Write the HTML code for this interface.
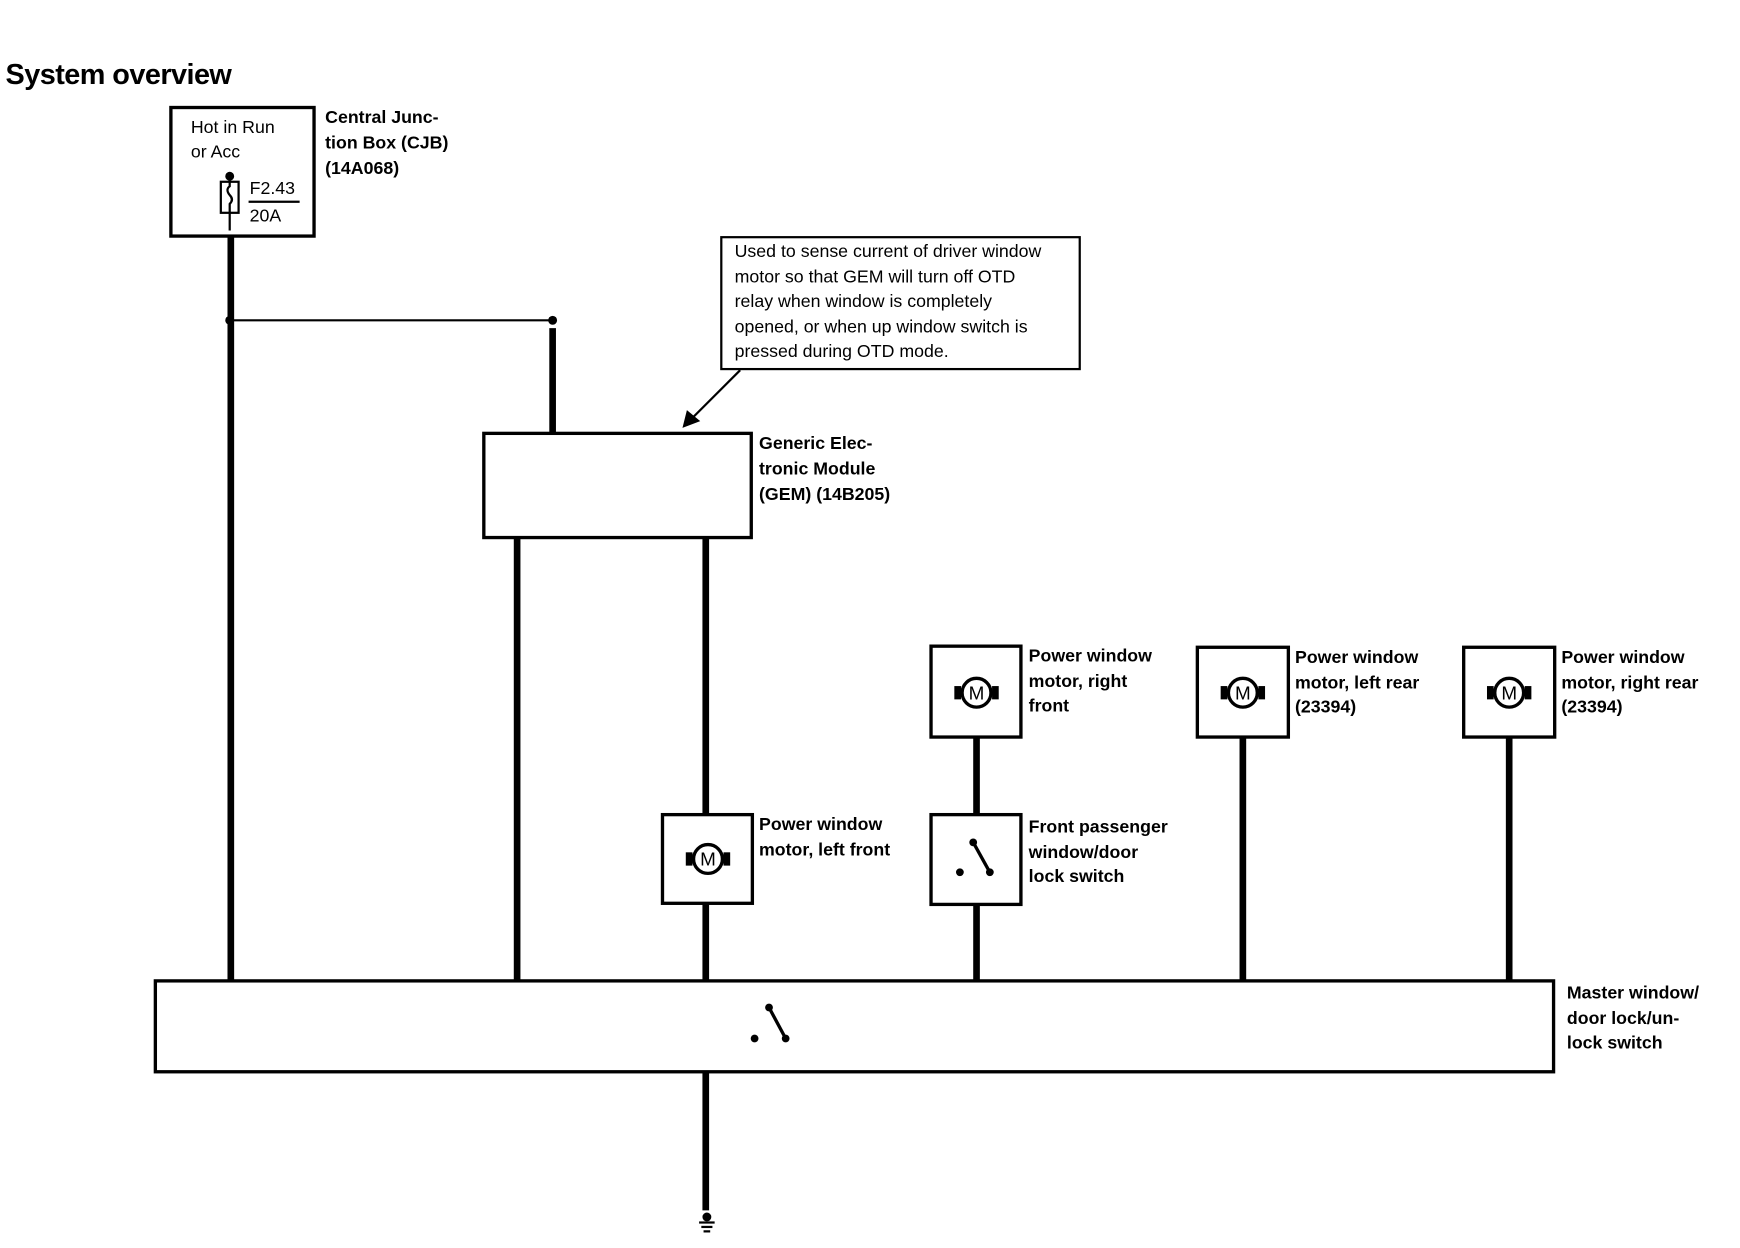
<!DOCTYPE html>
<html><head><meta charset="utf-8"><style>
html,body{margin:0;padding:0;background:#fff;}
svg{display:block;}
text{font-family:"Liberation Sans",Arial,sans-serif;fill:#000;}
.b{font-weight:bold;font-size:16px;}
.r{font-size:16px;}
</style></head><body>
<svg width="1740" height="1248" viewBox="0 0 1568 1126" preserveAspectRatio="none" xmlns="http://www.w3.org/2000/svg">
<defs>
<g id="mot">
<rect x="-20" y="-6" width="6" height="12" fill="#000"/>
<rect x="14" y="-6" width="6" height="12" fill="#000"/>
<circle cx="0" cy="0" r="13" fill="#fff" stroke="#000" stroke-width="3"/>
<text x="0" y="6" text-anchor="middle" style="font-size:17px">M</text>
</g>
</defs>
<text x="5" y="76" style="font-size:26px;font-weight:bold;letter-spacing:-0.5px">System overview</text>
<!-- CJB -->
<rect x="154" y="97" width="129" height="116" fill="none" stroke="#000" stroke-width="3"/>
<text class="r" x="172" y="120">Hot in Run</text>
<text class="r" x="172" y="142">or Acc</text>
<circle cx="207" cy="159" r="4"/>
<rect x="199" y="164" width="16" height="28" fill="none" stroke="#000" stroke-width="2"/>
<path d="M207 161 v7 q-4 3 0 8 q4 4 0 8 v24" fill="none" stroke="#000" stroke-width="2"/>
<text class="r" x="225" y="175">F2.43</text>
<line x1="224" y1="182" x2="270" y2="182" stroke="#000" stroke-width="2"/>
<text class="r" x="225" y="200">20A</text>
<text class="b" x="293" y="111">Central Junc-</text>
<text class="b" x="293" y="134">tion Box (CJB)</text>
<text class="b" x="293" y="157">(14A068)</text>
<!-- wires -->
<g stroke="#000" stroke-width="6" fill="none">
<line x1="208" y1="213" x2="208" y2="885"/>
<line x1="498" y1="296" x2="498" y2="391"/>
<line x1="466" y1="485" x2="466" y2="885"/>
<line x1="636" y1="485" x2="636" y2="735"/>
<line x1="636" y1="815" x2="636" y2="885"/>
<line x1="880" y1="665" x2="880" y2="735"/>
<line x1="880" y1="816" x2="880" y2="885"/>
<line x1="1120" y1="665" x2="1120" y2="885"/>
<line x1="1360" y1="665" x2="1360" y2="885"/>
<line x1="636" y1="967" x2="636" y2="1092"/>
</g>
<line x1="207" y1="289" x2="498" y2="289" stroke="#000" stroke-width="2"/>
<circle cx="207" cy="289" r="4"/><circle cx="498" cy="289" r="4"/>
<!-- note -->
<rect x="650" y="214" width="323" height="119" fill="#fff" stroke="#000" stroke-width="2"/>
<text class="r" x="662" y="232">Used to sense current of driver window</text>
<text class="r" x="662" y="255">motor so that GEM will turn off OTD</text>
<text class="r" x="662" y="277">relay when window is completely</text>
<text class="r" x="662" y="300">opened, or when up window switch is</text>
<text class="r" x="662" y="322">pressed during OTD mode.</text>
<line x1="667" y1="334" x2="624" y2="377" stroke="#000" stroke-width="2"/>
<polygon points="615,386 619,370 631,380" fill="#000"/>
<!-- GEM -->
<rect x="436" y="391" width="241" height="94" fill="#fff" stroke="#000" stroke-width="3"/>
<text class="b" x="684" y="405">Generic Elec-</text>
<text class="b" x="684" y="428">tronic Module</text>
<text class="b" x="684" y="451">(GEM) (14B205)</text>
<!-- LF motor -->
<rect x="597" y="735" width="81" height="80" fill="#fff" stroke="#000" stroke-width="3"/>
<use href="#mot" x="638" y="775"/>
<text class="b" x="684" y="749">Power window</text>
<text class="b" x="684" y="772">motor, left front</text>
<!-- RF -->
<rect x="839" y="583" width="81" height="82" fill="#fff" stroke="#000" stroke-width="3"/>
<use href="#mot" x="880" y="625"/>
<text class="b" x="927" y="597">Power window</text>
<text class="b" x="927" y="620">motor, right</text>
<text class="b" x="927" y="642">front</text>
<!-- FP switch -->
<rect x="839" y="735" width="81" height="81" fill="#fff" stroke="#000" stroke-width="3"/>
<circle cx="865" cy="787" r="3.5"/><circle cx="877" cy="760" r="3.5"/><circle cx="892" cy="787" r="3.5"/>
<line x1="877" y1="760" x2="892" y2="787" stroke="#000" stroke-width="3"/>
<text class="b" x="927" y="751">Front passenger</text>
<text class="b" x="927" y="774">window/door</text>
<text class="b" x="927" y="796">lock switch</text>
<!-- LR -->
<rect x="1079" y="584" width="82" height="81" fill="#fff" stroke="#000" stroke-width="3"/>
<use href="#mot" x="1120" y="625"/>
<text class="b" x="1167" y="598">Power window</text>
<text class="b" x="1167" y="621">motor, left rear</text>
<text class="b" x="1167" y="643">(23394)</text>
<!-- RR -->
<rect x="1319" y="584" width="82" height="81" fill="#fff" stroke="#000" stroke-width="3"/>
<use href="#mot" x="1360" y="625"/>
<text class="b" x="1407" y="598">Power window</text>
<text class="b" x="1407" y="621">motor, right rear</text>
<text class="b" x="1407" y="643">(23394)</text>
<!-- master -->
<rect x="140" y="885" width="1260" height="82" fill="#fff" stroke="#000" stroke-width="3"/>
<circle cx="680" cy="937" r="3.5"/><circle cx="693" cy="909" r="3.5"/><circle cx="708" cy="937" r="3.5"/>
<line x1="693" y1="909" x2="708" y2="937" stroke="#000" stroke-width="3"/>
<text class="b" x="1412" y="901">Master window/</text>
<text class="b" x="1412" y="924">door lock/un-</text>
<text class="b" x="1412" y="946">lock switch</text>
<!-- ground -->
<circle cx="637" cy="1098" r="4"/>
<line x1="630" y1="1103" x2="644" y2="1103" stroke="#000" stroke-width="2"/>
<line x1="632" y1="1107" x2="642" y2="1107" stroke="#000" stroke-width="2"/>
<line x1="634" y1="1111" x2="640" y2="1111" stroke="#000" stroke-width="2"/>
</svg>
</body></html>
